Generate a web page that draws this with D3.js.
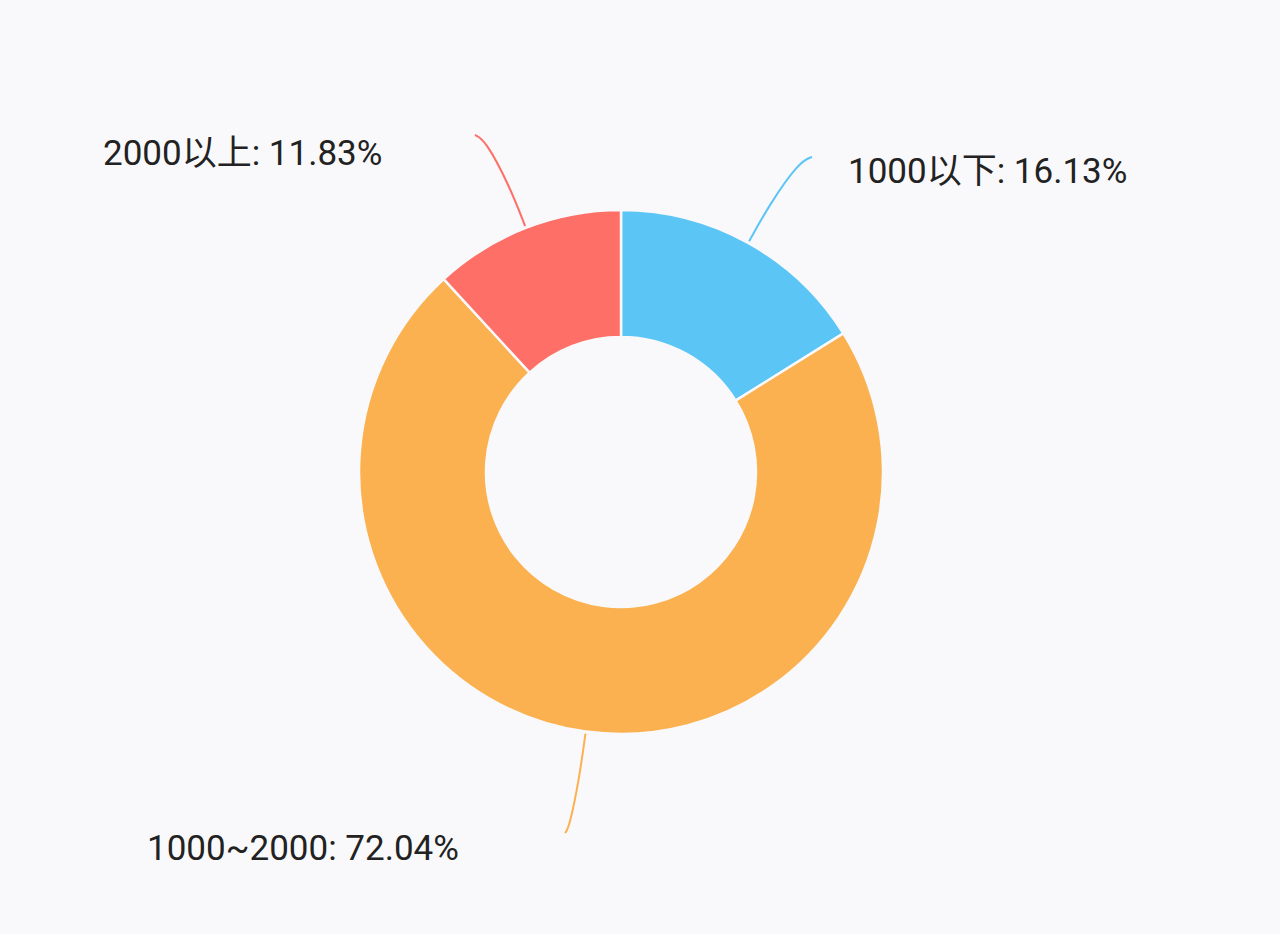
<!DOCTYPE html><html><head><meta charset="utf-8">
<script src="https://cdn.jsdelivr.net/npm/d3@7"></script>
<style>body{margin:0;background:#f9f9fb}</style></head><body>
<svg id="c" width="1280" height="934"></svg>
<script>
const categories=["1000以下","1000~2000","2000以上"];
const values=[16.13,72.04,11.83];
const colors=["#5bc5f5","#fbb150","#fd6f67"];
const svg=d3.select("#c");
svg.append("rect").attr("width",1280).attr("height",934).attr("fill","#f9f9fb");
const cx=621,cy=472,R=262,r=135;
const g=svg.append("g").attr("transform",`translate(${cx},${cy})`);
const pie=d3.pie().sort(null).value(d=>d)(values);
const arc=d3.arc().innerRadius(r).outerRadius(R);
g.selectAll("path.s").data(pie).join("path").attr("d",arc)
 .attr("fill",(d,i)=>colors[i]).attr("stroke","#f9f9fb").attr("stroke-width",2.5);
// label endpoints (relative to center) and text anchor positions
const ends=[[191,-315],[-56,361],[-146,-337]];
const textPos=[[848,183,"start"],[147,860,"start"],[103,165,"start"]];
pie.forEach((d,i)=>{
  const a=(d.startAngle+d.endAngle)/2;
  const p0=[Math.sin(a)*(R+2),-Math.cos(a)*(R+2)];
  const p1=[Math.sin(a)*(R+45),-Math.cos(a)*(R+45)];
  const e=ends[i];
  const p2=[e[0]+(e[0]>p1[0]?-8:8)*0.3,e[1]];
  g.append("path").attr("d",d3.line().curve(d3.curveBasis)([p0,p1,[ (p1[0]*0.3+e[0]*0.7),(p1[1]*0.1+e[1]*0.9)],e]))
   .attr("fill","none").attr("stroke",colors[i]).attr("stroke-width",2);
  const t=textPos[i];
  svg.append("text").attr("x",t[0]).attr("y",t[1]).attr("text-anchor",t[2])
   .attr("font-family","Roboto, 'Noto Sans CJK SC', sans-serif").attr("font-size",35).attr("fill","#222")
   .text(`${categories[i]}: ${values[i].toFixed(2)}%`);
});
</script></body></html>
